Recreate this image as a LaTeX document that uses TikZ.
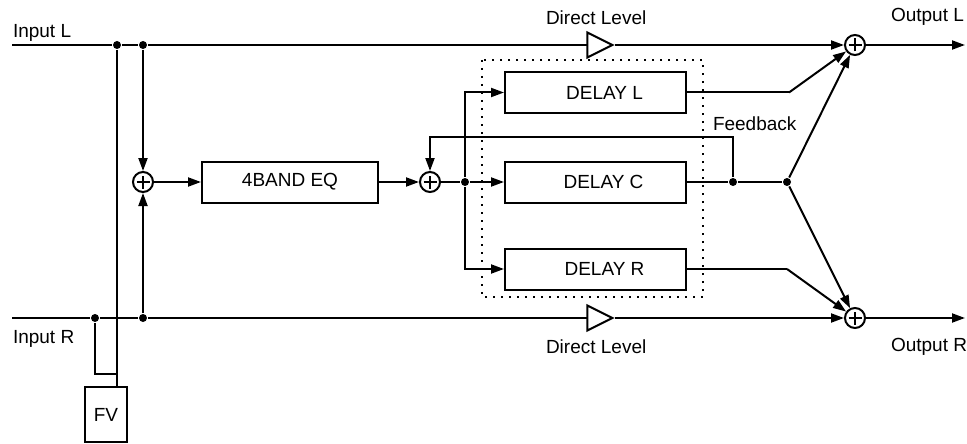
\documentclass[tikz,border=0pt]{standalone}
\usepackage{fontspec}
\setmainfont{Liberation Sans}
\usetikzlibrary{arrows.meta,shapes.geometric}
\begin{document}
\begin{tikzpicture}[x=1pt,y=-1pt, line width=2pt,
  font=\fontsize{19}{21}\selectfont,
  >={Triangle[length=13pt,width=9pt]},
  blk/.style={draw, minimum width=#1, minimum height=41pt, inner sep=0pt},
  sumnode/.style={circle, draw, minimum size=20pt, inner sep=0pt,
    path picture={\draw[line width=2pt] (path picture bounding box.center) +(-6.5pt,0) -- +(6.5pt,0)
      (path picture bounding box.center) +(0,-6.5pt) -- +(0,6.5pt);}},
  jdot/.style={circle, fill, inner sep=0pt, minimum size=8pt},
  amp/.style={isosceles triangle, isosceles triangle stretches, shape border rotate=0,
    draw, fill=white, inner sep=0pt, minimum height=25pt, minimum width=25pt},
  lbl/.style={inner sep=0pt, anchor=base west},
  dotbox/.style={line width=2pt, dash pattern=on 2pt off 6pt}
]
\useasboundingbox (0,0) rectangle (967,444);

% top line
\coordinate (inL) at (12,45);
\node[jdot] (a1) at (117,45) {};
\node[jdot] (a2) at (143,45) {};
\node[sumnode] (sumL) at (855,45) {};
\coordinate (outL) at (965,45);
% bottom line
\coordinate (inR) at (12,318);
\node[jdot] (b0) at (95,318) {};
\node[jdot] (b2) at (143,318) {};
\node[sumnode] (sumR) at (855,318) {};
\coordinate (outR) at (965,318);

\node[draw, minimum width=42pt, minimum height=55pt, inner sep=0pt] (fv) at (106,414.5) {FV};
\coordinate (jn) at (117,374);

\node[sumnode] (s1) at (143,182) {};
\node[blk=176pt] (eq) at (290,182) {4BAND EQ};
\node[sumnode] (s2) at (430,182) {};
\node[jdot] (c) at (465,182) {};
\node[blk=181pt] (dl) at (595.5,92.5) {\hspace*{18pt}DELAY L};
\node[blk=181pt] (dc) at (595.5,182) {\hspace*{16pt}DELAY C};
\node[blk=181pt] (dr) at (595.5,269) {\hspace*{18pt}DELAY R};
\draw[dotbox] (482,60) rectangle (703,297);
\node[jdot] (fb) at (733,182) {};
\coordinate (fbt) at (733,137);
\node[jdot] (d) at (787,182) {};
\coordinate (lk) at (789,92.5);
\coordinate (rk) at (787,269);

% main lines
\draw (inL) -- (a1) -- (a2) -- (595,45);
\draw (inR) -- (b0) -- (b2) -- (595,318);
\node[amp] (ampL) at (595,45) {};
\node[amp] (ampR) at (595,318) {};
\draw[->] (ampL) -- (sumL);
\draw[->] (sumL) -- (outL);
\draw[->] (ampR) -- (sumR);
\draw[->] (sumR) -- (outR);

% FV
\draw (a1) -- (a1 |- fv.north);
\draw (b0) |- (jn);

% EQ path
\draw[->] (a2) -- (s1);
\draw[->] (b2) -- (s1);
\draw[->] (s1) -- (eq);
\draw[->] (eq) -- (s2);
\draw (s2) -- (c);
\draw[->] (c) -- (dc);
\draw[->] (c) |- (dl);
\draw[->] (c) |- (dr);

% feedback and outputs
\draw (dc) -- (fb) -- (d);
\draw[->] (fb) -- (fbt) -| (s2);
\draw (dl) -- (lk);
\draw[->] (lk) -- (sumL);
\draw[->] (d) -- (sumL);
\draw[->] (d) -- (sumR);
\draw (dr) -- (rk);
\draw[->] (rk) -- (sumR);

% labels
\node[lbl] (tinl) at (12,38) {Input L};
\node[lbl] (tinr) at (12,343) {Input R};
\node[lbl] (toutl) at (890,22) {Output L};
\node[lbl] (toutr) at (890,351) {Output R};
\node[lbl] (tdl1) at (545,25) {Direct Level};
\node[lbl] (tdl2) at (545,353) {Direct Level};
\node[lbl] (tfb) at (712,130) {Feedback};
\end{tikzpicture}
\end{document}
